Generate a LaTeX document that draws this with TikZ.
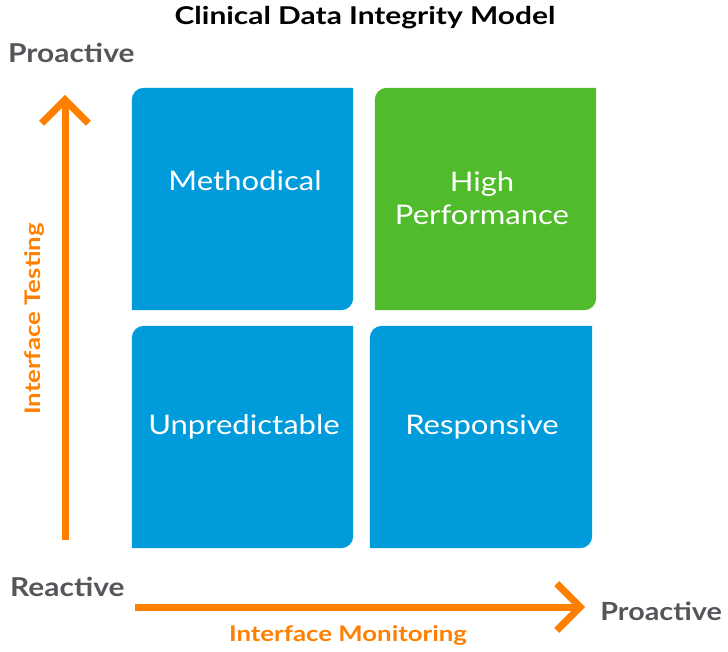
\documentclass[tikz,border=0pt]{standalone}
\usepackage{fontspec}
\setmainfont{Lato}
\newfontfamily\qboxfont[FakeStretch=1.15]{Lato}
\newfontfamily\qlabfont[FakeStretch=1.15,BoldFont={Lato Bold}]{Lato}
\newfontfamily\qnamefont[FakeStretch=1.2,BoldFont={Lato Bold}]{Lato}
\newfontfamily\qtitlefont[FakeStretch=1.22,BoldFont={Lato Bold}]{Lato}
\usetikzlibrary{arrows.meta,backgrounds}
\definecolor{qblue}{RGB}{0,155,219}
\definecolor{qgreen}{RGB}{80,187,43}
\definecolor{qorange}{RGB}{255,128,0}
\definecolor{qgray}{RGB}{85,86,90}
\begin{document}
\begin{tikzpicture}[x=1pt,y=1pt,
  quad/.style={shape=rectangle,inner sep=0pt,minimum width=221pt,minimum height=222pt},
  quadtext/.style={text=white,font=\qboxfont\fontsize{27}{33}\selectfont,align=center},
  axislabel/.style={text=qgray,font=\qlabfont\fontsize{26}{30}\selectfont\bfseries},
  axisname/.style={text=qorange,font=\qnamefont\fontsize{21.5}{25}\selectfont\bfseries},
  axisarrow/.style={draw=qorange,line width=7pt,-{Straight Barb[angle=90:33pt]}}
]
\useasboundingbox (0,0) rectangle (728,651);
% boxes
\node[quad] (meth) at (242.5,452) {};
\node[quad] (high) at (485.5,452) {};
\node[quad] (unpr) at (242.5,214) {};
\node[quad,minimum width=222pt] (resp) at (481,214) {};
\begin{scope}[on background layer]
\foreach \n/\c in {meth/qblue,high/qgreen,unpr/qblue,resp/qblue}{
  \fill[\c] (\n.north east) -- ([yshift=12pt]\n.south east)
    arc[start angle=0,end angle=-90,radius=12pt]
    -- (\n.south west) -- ([yshift=-12pt]\n.north west)
    arc[start angle=180,end angle=90,radius=12pt] -- cycle;
}
\end{scope}
% box texts
\node[quadtext] (tmeth) at (245,470) {Methodical};
\node[quadtext] (thigh) at (482,453) {High\\Performance};
\node[quadtext] (tunpr) at (244,224) {Unpredictable};
\node[quadtext] (tresp) at (482,224) {Responsive};
% title
\node[font=\qtitlefont\fontsize{24.5}{28}\selectfont\bfseries] (title) at (365,633) {Clinical Data Integrity Model};
% axis labels
\node[axislabel,anchor=west,inner sep=0pt] (ptop) at (8,598) {Proactive};
\node[axislabel,anchor=west,inner sep=0pt] (react) at (10,64) {Reactive};
\node[axislabel,anchor=east,inner sep=0pt,font=\qlabfont\fontsize{25}{30}\selectfont\bfseries] (pright) at (722,40) {Proactive};
\node[axisname,rotate=90] (itest) at (34,332) {Interface Testing};
\node[axisname] (imon) at (348,16) {Interface Monitoring};
% arrows
\coordinate (vstart) at (65,111);
\coordinate (vend) at (65,556);
\coordinate (hstart) at (135,44);
\coordinate (hend) at (585,44);
\draw[axisarrow] (vstart) -- (vend);
\draw[axisarrow] (hstart) -- (hend);
\end{tikzpicture}
\end{document}
